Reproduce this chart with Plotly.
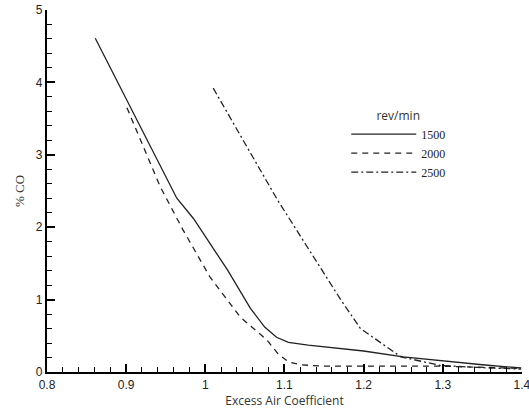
import plotly.graph_objects as go

# Excess air coefficient (x) and %CO (y)
x_1500 = [0.861, 0.964, 0.985, 1.028, 1.057, 1.075, 1.090, 1.105, 1.130, 1.200, 1.250, 1.300, 1.350, 1.399]
y_1500 = [4.61, 2.40, 2.12, 1.41, 0.88, 0.62, 0.48, 0.41, 0.37, 0.29, 0.21, 0.15, 0.10, 0.055]

x_2000 = [0.901, 0.943, 0.972, 1.006, 1.044, 1.078, 1.092, 1.105, 1.120, 1.150, 1.300, 1.350, 1.399]
y_2000 = [3.65, 2.56, 1.96, 1.31, 0.76, 0.44, 0.25, 0.14, 0.10, 0.08, 0.08, 0.07, 0.05]

x_2500 = [1.010, 1.091, 1.171, 1.196, 1.247, 1.297, 1.350, 1.399]
y_2500 = [3.92, 2.38, 1.00, 0.60, 0.21, 0.09, 0.06, 0.04]

series = [
    ("1500", x_1500, y_1500, "solid"),
    ("2000", x_2000, y_2000, "6px,5px"),
    ("2500", x_2500, y_2500, "7px,3px,2px,3px"),
]

x_ticks = [0.8, 0.9, 1.0, 1.1, 1.2, 1.3, 1.4]
x_ticklabels = ["0.8", "0.9", "1", "1.1", "1.2", "1.3", "1.4"]
y_ticks = [0, 1, 2, 3, 4, 5]

fig = go.Figure()
for name, xs, ys, dash in series:
    fig.add_trace(go.Scatter(
        x=xs, y=ys, mode="lines", name=name,
        line=dict(color="#222222", width=1.3, dash=dash),
    ))

tickfont = dict(family="Liberation Sans, Arial", size=12, color="#222")

fig.update_layout(
    template="none",
    width=529, height=411,
    margin=dict(l=47, r=7, t=10, b=39),
    paper_bgcolor="white", plot_bgcolor="white",
    showlegend=True,
    xaxis=dict(
        range=[0.8, 1.4001], tickmode="array", tickvals=x_ticks, ticktext=x_ticklabels,
        showline=True, linecolor="black", linewidth=2.2,
        ticks="inside", ticklen=8, tickwidth=1.5, tickcolor="black",
        showgrid=False, zeroline=False, tickfont=tickfont, ticklabeloverflow="allow",
        minor=dict(dtick=0.02, tick0=0.8, ticks="inside", ticklen=5, tickwidth=1.2,
                   tickcolor="black", showgrid=False),
        title=dict(text="Excess Air Coefficient", standoff=6,
                   font=dict(family="Open Sans, DejaVu Sans", size=12, color="#333")),
    ),
    yaxis=dict(
        range=[0, 5], tickmode="array", tickvals=y_ticks,
        showline=True, linecolor="black", linewidth=2.2,
        ticks="inside", ticklen=8, tickwidth=1.5, tickcolor="black",
        showgrid=False, zeroline=False, tickfont=tickfont,
        minor=dict(dtick=0.2, tick0=0, ticks="inside", ticklen=5, tickwidth=1.2,
                   tickcolor="black", showgrid=False),
        title=dict(text="% CO", standoff=8,
                   font=dict(family="Liberation Serif, Times New Roman", size=13, color="#333")),
    ),
    legend=dict(
        x=0.63, y=0.74, xanchor="left", yanchor="top",
        bgcolor="rgba(0,0,0,0)", itemwidth=65,
        title=dict(text="rev/min", side="top center",
                   font=dict(family="Open Sans, DejaVu Sans", size=12, color="#333")),
        font=dict(family="Liberation Serif, Times New Roman", size=12, color="#222"),
        tracegroupgap=0,
    ),
)

fig.write_html("out.html")
